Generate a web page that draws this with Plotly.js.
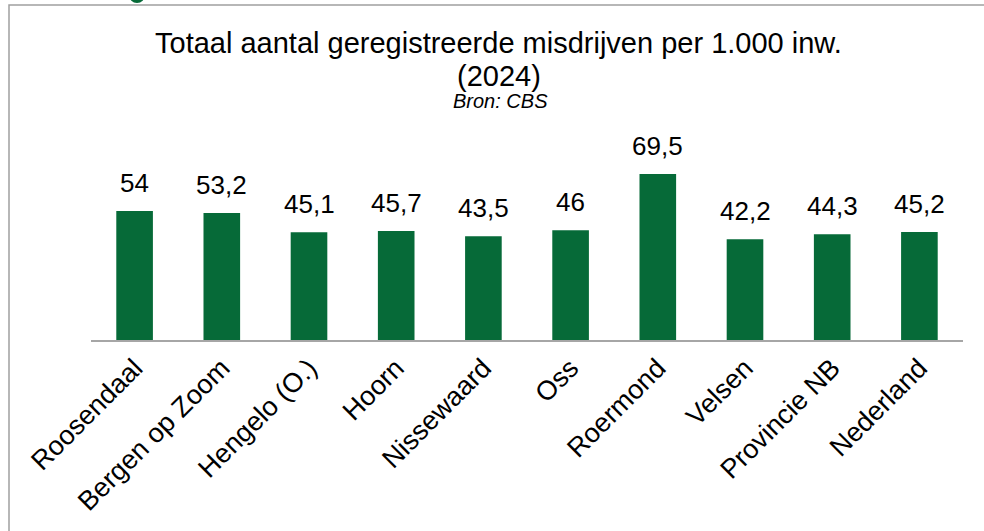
<!DOCTYPE html>
<html>
<head>
<meta charset="utf-8">
<script src="https://cdn.plot.ly/plotly-3.0.1.min.js"></script>
<style>
  html, body { margin: 0; padding: 0; background: #fff; }
  #chart { width: 984px; height: 531px; }
</style>
</head>
<body>
<div id="chart"></div>
<script>
// Data
const categories = ["Roosendaal", "Bergen op Zoom", "Hengelo (O.)", "Hoorn", "Nissewaard", "Oss", "Roermond", "Velsen", "Provincie NB", "Nederland"];
const values = [54, 53.2, 45.1, 45.7, 43.5, 46, 69.5, 42.2, 44.3, 45.2];
const titleLine1 = "Totaal aantal geregistreerde misdrijven per 1.000 inw.";
const titleLine2 = "(2024)";
const sourceText = "Bron: CBS";

const FONT = "Liberation Sans, Arial, sans-serif";
const GREEN = "#066a38";

// Layout geometry (pixels)
const W = 984, H = 531;
const M = { l: 91, r: 21, t: 149, b: 191 };
const plotW = W - M.l - M.r, plotH = H - M.t - M.b;
const px2x = p => (p - M.l) / plotW;
const py2y = p => 1 + (M.t - p) / plotH;

const labelText = values.map(v => String(v).replace(".", ","));

const trace = {
  type: "bar",
  x: categories,
  y: values,
  marker: { color: GREEN },
  hoverinfo: "x+y"
};

const annotations = categories.map((c, i) => ({
  x: c, y: values[i], xref: "x", yref: "y",
  text: labelText[i], showarrow: false,
  yanchor: "bottom", yshift: 11,
  font: { family: FONT, size: 26, color: "#000" }
}));

annotations.push(
  { x: px2x(498), y: py2y(43), xref: "paper", yref: "paper", text: titleLine1, showarrow: false,
    xanchor: "center", yanchor: "middle", font: { family: FONT, size: 29, color: "#000" } },
  { x: px2x(499), y: py2y(76), xref: "paper", yref: "paper", text: titleLine2, showarrow: false,
    xanchor: "center", yanchor: "middle", font: { family: FONT, size: 29, color: "#000" } },
  { x: px2x(500), y: py2y(101), xref: "paper", yref: "paper", text: "<i>" + sourceText + "</i>", showarrow: false,
    xanchor: "center", yanchor: "middle", font: { family: FONT, size: 20, color: "#000" } }
);

const layout = {
  width: W, height: H,
  margin: M,
  paper_bgcolor: "#fff", plot_bgcolor: "#fff",
  showlegend: false,
  bargap: 0.58,
  font: { family: FONT, color: "#000" },
  xaxis: {
    showline: true, linecolor: "#a6a6a6", linewidth: 1.5,
    ticks: "", tickangle: -45,
    tickfont: { family: FONT, size: 27, color: "#000" },
    showgrid: false, zeroline: false, fixedrange: true
  },
  yaxis: {
    range: [0, 80], visible: false, showgrid: false, zeroline: false, fixedrange: true
  },
  annotations: annotations,
  shapes: [
    { type: "rect", xref: "paper", yref: "paper",
      x0: px2x(9), x1: px2x(W + 20), y0: py2y(H + 20), y1: py2y(5),
      line: { color: "#a0a0a0", width: 1.5 }, fillcolor: "rgba(0,0,0,0)", layer: "below" },
    { type: "circle", xref: "paper", yref: "paper",
      x0: px2x(129), x1: px2x(145), y0: py2y(3), y1: py2y(-13),
      line: { width: 0 }, fillcolor: GREEN }
  ]
};

Plotly.newPlot("chart", [trace], layout, { displayModeBar: false, staticPlot: true });
</script>
</body>
</html>
